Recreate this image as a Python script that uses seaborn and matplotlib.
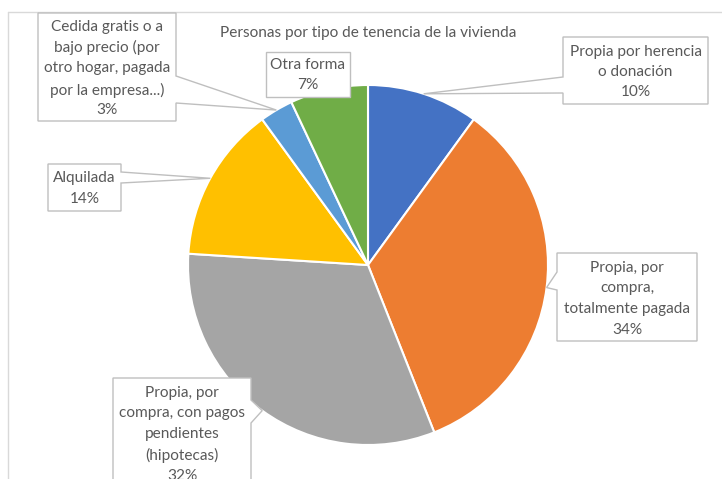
import numpy as np
import matplotlib
matplotlib.use("Agg")
import matplotlib.pyplot as plt
from matplotlib.patches import Polygon
import seaborn as sns

# Tenure categories (clockwise from 12 o'clock) and their shares in percent
categorias = [
    "Propia por herencia\no donación",
    "Propia, por\ncompra,\ntotalmente pagada",
    "Propia, por\ncompra, con pagos\npendientes\n(hipotecas)",
    "Alquilada",
    "Cedida gratis o a\nbajo precio (por\notro hogar, pagada\npor la empresa...)",
    "Otra forma",
]
porcentajes = [10, 34, 32, 14, 3, 7]
titulo = "Personas por tipo de tenencia de la vivienda"

colores = sns.color_palette(["#4472C4", "#ED7D31", "#A5A5A5", "#FFC000", "#5B9BD5", "#70AD47"])

sns.set_theme(style="white")
plt.rcParams["font.family"] = ["Lato", "DejaVu Sans"]

W, H = 722, 479
fig = plt.figure(figsize=(W / 100, H / 100), dpi=100)
ax = fig.add_axes([0, 0, 1, 1])

# Layout in pixel units (origin top-left); converted to axis units below
CX, CY, R = 368, 265, 180
TXT = "#595959"
BORDE = "#BFBFBF"
FS = 11.1


def fy(y):
    return H - y


wedges, _ = ax.pie(
    porcentajes,
    colors=colores,
    startangle=90,
    counterclock=False,
    center=(CX, fy(CY)),
    radius=R,
    wedgeprops=dict(edgecolor="white", linewidth=1.5),
)
ax.set_xlim(0, W)
ax.set_ylim(0, H)
ax.set_aspect("auto")
ax.axis("off")

# Chart area frame (top and left edges)
ax.plot([8, W], [fy(12), fy(12)], color="#D9D9D9", lw=1, clip_on=False)
ax.plot([8, 8], [fy(12), 0], color="#D9D9D9", lw=1, clip_on=False)

ax.text(CX, fy(33), titulo, ha="center", va="center", fontsize=FS, color=TXT)

# Callout boxes: (x0, y0, x1, y1), pointer side, pointer base span on that side
cajas = [
    ((563, 37, 708, 104), "left", (77, 93)),
    ((557, 253, 697, 341), "left", (272, 290)),
    ((113, 378, 251, 492), "right", (400, 423)),
    ((48, 164, 121, 211), "right", (172, 183)),
    ((38, 13, 176, 121), "right", (76, 103)),
    ((266, 52, 350, 97), None, None),
]
lineas_y = [
    [52, 72, 92],
    [268, 288, 309, 330],
    [393, 413, 434, 455, 476],
    [178, 199],
    [27, 47, 68, 90, 110],
    [65, 85],
]

for w, cat, val, (box, lado, base), ys in zip(wedges, categorias, porcentajes, cajas, lineas_y):
    x0, y0, x1, y1 = box
    mid = np.deg2rad((w.theta1 + w.theta2) / 2)
    ax_pt = (w.center[0] + w.r * np.cos(mid), w.center[1] + w.r * np.sin(mid))
    if lado == "left":
        verts = [(x0, fy(y0)), (x1, fy(y0)), (x1, fy(y1)), (x0, fy(y1)),
                 (x0, fy(base[1])), ax_pt, (x0, fy(base[0]))]
    elif lado == "right":
        verts = [(x0, fy(y0)), (x1, fy(y0)), (x1, fy(base[0])), ax_pt,
                 (x1, fy(base[1])), (x1, fy(y1)), (x0, fy(y1))]
    else:
        verts = [(x0, fy(y0)), (x1, fy(y0)), (x1, fy(y1)), (x0, fy(y1))]
    ax.add_patch(Polygon(verts, closed=True, facecolor="white", edgecolor=BORDE,
                         lw=1, zorder=3, clip_on=False))
    lineas = cat.split("\n") + [f"{val}%"]
    xc = (x0 + x1) / 2
    for texto, yl in zip(lineas, ys):
        ax.text(xc, fy(yl), texto, ha="center", va="center", fontsize=FS,
                color=TXT, zorder=4)

fig.savefig("out.png", dpi=100, facecolor="white")
